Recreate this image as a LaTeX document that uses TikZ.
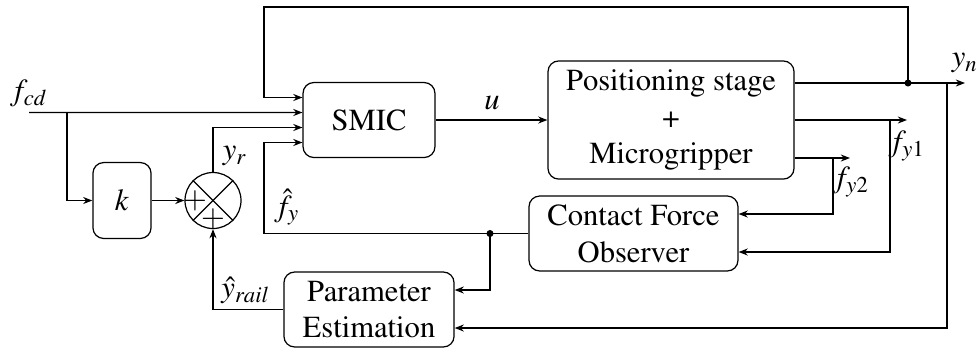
\documentclass[tikz,border=0pt]{standalone}
\usepackage{mathptmx}
\usetikzlibrary{arrows.meta,calc,shapes.geometric}
\begin{document}
\begin{tikzpicture}[x=0.3268pt,y=-0.3268pt,
  font={\fontencoding{OT1}\fontfamily{ptm}\fontsize{10}{12}\selectfont},
  blk/.style={draw,rounded corners=3.5pt,align=center,inner sep=0pt},
  arr/.style={-{Stealth[length=3pt,width=2.3pt]}},
  lbl/.style={inner sep=0pt}]
\useasboundingbox (0,0) rectangle (977,349);

% blocks
\node[blk,minimum width=43.1pt,minimum height=24.5pt] (SMIC) at (369,120) {SMIC};
\node[blk,minimum width=19.0pt,minimum height=24.8pt] (k) at (122,200.5) {$k$};
\node[blk,minimum width=80.4pt,minimum height=38.6pt] (PS) at (671,120) {Positioning stage\\+\\Microgripper};
\node[blk,minimum width=68.3pt,minimum height=24.5pt] (CFO) at (633.5,233.5) {Contact Force\\Observer};
\node[blk,minimum width=55.6pt,minimum height=24.5pt] (PE) at (369,309.5) {Parameter\\Estimation};
\node[draw,circle,minimum size=18.3pt,inner sep=0pt] (sum) at (213,200.5) {};
\draw (sum.north west) -- (sum.south east);
\draw (sum.north east) -- (sum.south west);
\node[lbl] (p1) at (195,200.5) {$+$};
\node[lbl] (p2) at (213,219) {$+$};

% coordinates
\coordinate (s1) at ($(SMIC.west)+(0,-22.5)$);
\coordinate (s2) at ($(SMIC.west)+(0,-7.5)$);
\coordinate (s3) at ($(SMIC.west)+(0,7.5)$);
\coordinate (s4) at ($(SMIC.west)+(0,22.5)$);
\coordinate (ps1) at ($(PS.east)+(0,-37)$);
\coordinate (ps3) at ($(PS.east)+(0,38)$);
\coordinate (cfo1) at ($(CFO.east)+(0,-19.5)$);
\coordinate (cfo2) at ($(CFO.east)+(0,18.5)$);
\coordinate (pe1) at ($(PE.east)+(0,-19.5)$);
\coordinate (pe2) at ($(PE.east)+(0,18.5)$);
\coordinate (fin) at (29,112.5);
\coordinate (br) at (67,112.5);
\coordinate (yn) at (965,83);
\coordinate (dot) at (908,83);
\coordinate (top) at (264,7);
\coordinate (yb) at (947,83);
\coordinate (fb) at (264,233.5);
\coordinate (dot2) at (490,233.5);
\coordinate (f1) at (907,120);
\coordinate (f1b) at (890,120);
\coordinate (f2) at (850,158);
\coordinate (f2b) at (833,158);

% connectors
\draw[arr] (fin) -- (s2);
\draw[arr] (br) |- (k.west);
\draw[arr] (k) -- (sum);
\draw[arr] (sum.north) |- (s3);
\draw[arr] (CFO.west) -- (fb) |- (s4);
\draw[arr] (dot2) |- (pe1);
\draw[arr] (PE.west) -| (sum.south);
\draw[arr] (SMIC) -- (PS);
\draw[arr] (ps1) -- (yn);
\draw[arr] (dot) |- (top) |- (s1);
\draw[arr] (yb) |- (pe2);
\draw[arr] (PS.east) -- (f1);
\draw[arr] (f1b) |- (cfo2);
\draw[arr] (ps3) -- (f2);
\draw[arr] (f2b) |- (cfo1);
\fill (dot) circle (1.15pt);
\fill (dot2) circle (1.15pt);

% labels
\node[lbl] (lfcd) at (29,93) {$f_{cd}$};
\node[lbl] (lyr) at (235,156) {$y_r$};
\node[lbl] (lfy) at (287,207) {$\hat{f}_y$};
\node[lbl] (lyrail) at (246,290) {$\hat{y}_{rail}$};
\node[lbl] (lu) at (492,103) {$u$};
\node[lbl] (lyn) at (965,63) {$y_n$};
\node[lbl] (lfy1) at (907,146) {$f_{y1}$};
\node[lbl] (lfy2) at (851,182) {$f_{y2}$};
\end{tikzpicture}
\end{document}
